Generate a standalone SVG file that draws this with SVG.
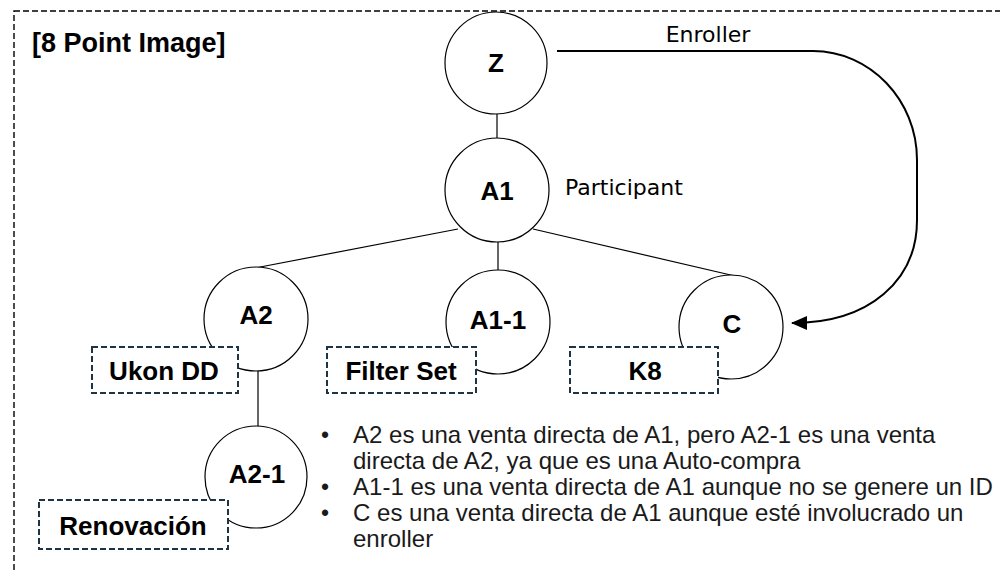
<svg xmlns="http://www.w3.org/2000/svg" width="1000" height="571" viewBox="0 0 1000 571">
<style>
.node{fill:#fff;stroke:#000;stroke-width:1.2}
.lbl{font-family:"Liberation Sans",Arial,sans-serif;font-weight:bold;font-size:26px;fill:#000;text-anchor:middle}
.tag{fill:#fff;stroke:#1e3344;stroke-width:2;stroke-dasharray:6 3}
.edge{stroke:#000;stroke-width:1.2;fill:none}
.reg{font-family:"DejaVu Sans",Verdana,sans-serif;font-size:22px;fill:#000}
.bul{font-family:"Liberation Sans",Arial,sans-serif;font-size:23px;fill:#1a1a1a}
</style>
<defs>
<marker id="ah" markerWidth="16" markerHeight="14" refX="15" refY="7" orient="auto" markerUnits="userSpaceOnUse">
<path d="M0,0 L16,7 L0,14 Z" fill="#000"/>
</marker>
</defs>
<rect x="14" y="11" width="1000" height="580" fill="none" stroke="#000" stroke-width="1.4" stroke-dasharray="6 3"/>
<text x="32" y="52" font-family="Liberation Sans,Arial,sans-serif" font-weight="bold" font-size="27" fill="#000">[8 Point Image]</text>
<g id="connectors">
<line class="edge" x1="497" y1="112" x2="497" y2="138"/>
<line class="edge" x1="458" y1="229" x2="255" y2="268"/>
<line class="edge" x1="498" y1="241" x2="498" y2="270"/>
<line class="edge" x1="533" y1="229" x2="735" y2="276"/>
<line class="edge" x1="258" y1="371" x2="258" y2="428"/>
<path d="M557,51 H813 C870,51 917,100 917,160 V220 C917,280 870,323 792,323" fill="none" stroke="#000" stroke-width="2" marker-end="url(#ah)"/>
<text class="reg" x="708" y="42" text-anchor="middle">Enroller</text>
</g>
<g id="node-Z">
<circle class="node" cx="496" cy="63" r="51"/>
<text class="lbl" x="496" y="72">Z</text>
</g>
<g id="node-A1">
<circle class="node" cx="497" cy="190" r="52"/>
<text class="lbl" x="497" y="200">A1</text>
<text class="reg" x="565" y="195">Participant</text>
</g>
<g id="node-A2">
<circle class="node" cx="256" cy="319" r="52"/>
<text class="lbl" x="256" y="324">A2</text>
</g>
<g id="node-A1-1">
<circle class="node" cx="498" cy="322" r="52"/>
<text class="lbl" x="498" y="329">A1-1</text>
</g>
<g id="node-C">
<circle class="node" cx="731" cy="327" r="52"/>
<text class="lbl" x="732" y="333">C</text>
</g>
<g id="node-A2-1">
<circle class="node" cx="256" cy="477" r="51"/>
<text class="lbl" x="257" y="483">A2-1</text>
</g>
<g id="tag-ukon">
<rect class="tag" x="92" y="347" width="146" height="46"/>
<text class="lbl" x="164" y="380">Ukon DD</text>
</g>
<g id="tag-filter">
<rect class="tag" x="327" y="347" width="149" height="46"/>
<text class="lbl" x="401" y="380">Filter Set</text>
</g>
<g id="tag-k8">
<rect class="tag" x="570" y="347" width="148" height="46"/>
<text class="lbl" x="645" y="380">K8</text>
</g>
<g id="tag-renov">
<rect class="tag" x="39" y="500" width="189" height="49"/>
<text class="lbl" x="133" y="535">Renovación</text>
</g>
<g id="notes">
<text class="bul" x="321" y="443">•</text>
<text class="bul" x="321" y="495">•</text>
<text class="bul" x="321" y="521">•</text>
<g transform="translate(353,0) scale(1.045,1)">
<text class="bul" x="0" y="443">A2 es una venta directa de A1, pero A2-1 es una venta</text>
<text class="bul" x="0" y="469">directa de A2, ya que es una Auto-compra</text>
<text class="bul" x="0" y="495">A1-1 es una venta directa de A1 aunque no se genere un ID</text>
<text class="bul" x="0" y="521">C es una venta directa de A1 aunque esté involucrado un</text>
<text class="bul" x="0" y="547">enroller</text>
</g>
</g>
</svg>
